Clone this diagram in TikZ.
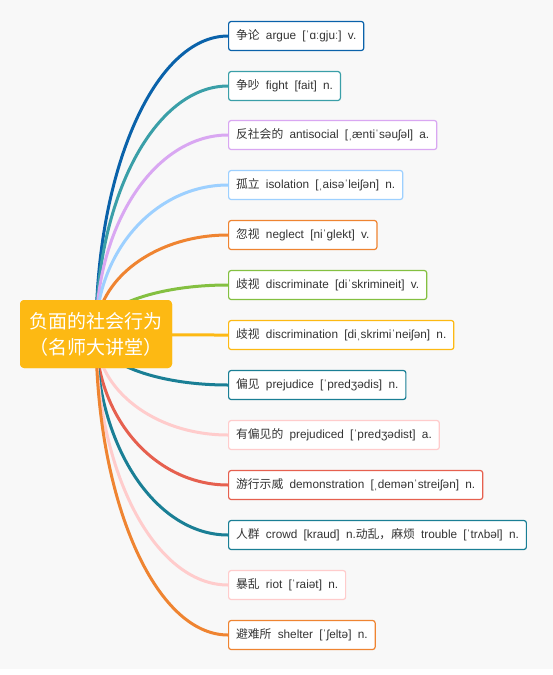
\documentclass[tikz,border=0pt]{standalone}
\usepackage{fontspec}
\setmainfont{Liberation Sans}
\newfontfamily\cjk{Noto Sans CJK SC}
\usetikzlibrary{calc}
\definecolor{bgc}{HTML}{F8F8F8}
\definecolor{txtc}{HTML}{333333}
\definecolor{c1}{HTML}{0A62AA}
\definecolor{c2}{HTML}{3A9FA8}
\definecolor{c3}{HTML}{D9A7F2}
\definecolor{c4}{HTML}{9DD0FF}
\definecolor{c5}{HTML}{EF8431}
\definecolor{c6}{HTML}{84C041}
\definecolor{c7}{HTML}{FDB913}
\definecolor{c8}{HTML}{1A7F95}
\definecolor{c9}{HTML}{FFCCCC}
\definecolor{c10}{HTML}{E6604F}
\definecolor{c11}{HTML}{1A7F95}
\definecolor{c12}{HTML}{FFCCCC}
\definecolor{c13}{HTML}{EF8431}
\newcommand{\gap}{\hspace{0.53em}}
\begin{document}
\begin{tikzpicture}[x=1pt,y=-1pt,
  leaf/.style={draw=#1, fill=white, line width=1.2pt, rounded corners=2.5pt,
    anchor=west, minimum height=29pt, inner xsep=7.5pt, inner ysep=0pt,
    font=\fontsize{11.8}{14}\selectfont, text=txtc},
  link/.style={draw=#1, line width=3pt},
  rootbox/.style={fill=c7, rounded corners=4pt, minimum width=152pt,
    minimum height=68pt, align=center, text=white, inner sep=0pt,
    font=\cjk\fontsize{19}{26}\selectfont}]
\fill[white] (0,0) rectangle (553,675);
\fill[bgc] (0,0) rectangle (553,669);
\useasboundingbox (0,0) rectangle (553,675);
\node[rootbox] (root) at (96,334) {负面的社会行为\\（名师大讲堂）};
\foreach \i/\yy in {1/36,2/86,3/135,4/185,5/235,6/285,7/335,8/385,9/435,10/485,11/535,12/585,13/635}
{
  \path (228,\yy) coordinate (p\i);
}
\foreach \i in {1,...,13}{
  \draw[link=c\i] (root.center) .. controls ($(root.center)!0.552!(root.center|-p\i)$)
    and ($(p\i)!0.552!(root.center|-p\i)$) .. (p\i);
}
\foreach \i/\txt in {
  1/{{\cjk 争论}\gap argue\gap [ˈɑːgjuː]\gap v.},
  2/{{\cjk 争吵}\gap fight\gap [fait]\gap n.},
  3/{{\cjk 反社会的}\gap antisocial\gap [ˌæntiˈsəuʃəl]\gap a.},
  4/{{\cjk 孤立}\gap isolation\gap [ˌaisəˈleiʃən]\gap n.},
  5/{{\cjk 忽视}\gap neglect\gap [niˈglekt]\gap v.},
  6/{{\cjk 歧视}\gap discriminate\gap [diˈskrimineit]\gap v.},
  7/{{\cjk 歧视}\gap discrimination\gap [diˌskrimiˈneiʃən]\gap n.},
  8/{{\cjk 偏见}\gap prejudice\gap [ˈpredʒədis]\gap n.},
  9/{{\cjk 有偏见的}\gap prejudiced\gap [ˈpredʒədist]\gap a.},
  10/{{\cjk 游行示威}\gap demonstration\gap [ˌdemənˈstreiʃən]\gap n.},
  11/{{\cjk 人群}\gap crowd\gap [kraud]\gap n.{\cjk 动乱，麻烦}\gap trouble\gap [ˈtrʌbəl]\gap n.},
  12/{{\cjk 暴乱}\gap riot\gap [ˈraiət]\gap n.},
  13/{{\cjk 避难所}\gap shelter\gap [ˈʃeltə]\gap n.}}
{
  \node[leaf=c\i] (n\i) at (p\i) {\txt};
}
\node[rootbox] at (root.center) {负面的社会行为\\（名师大讲堂）};
\end{tikzpicture}
\end{document}
